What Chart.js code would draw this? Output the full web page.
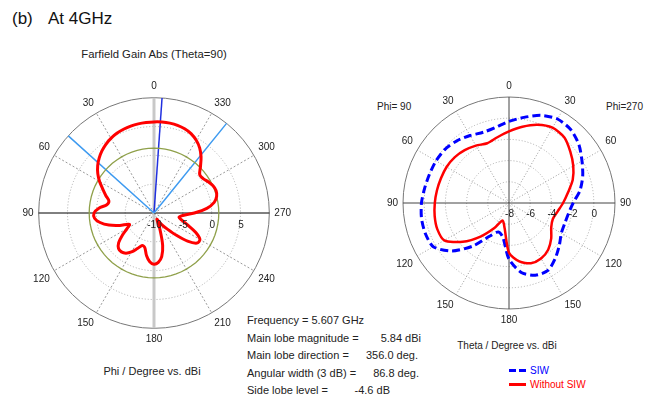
<!DOCTYPE html>
<html>
<head>
<meta charset="utf-8">
<script src="https://cdn.jsdelivr.net/npm/chart.js@4"></script>
<style>
  body { margin: 0; background: #fff; width: 656px; height: 400px; position: relative; overflow: hidden;
         font-family: "Liberation Sans", Arial, sans-serif; color: #222; }
  .t { position: absolute; font-size: 11px; line-height: 13px; white-space: pre; }
  .c { text-align: center; }
  canvas { position: absolute; }
</style>
</head>
<body>
<div class="t" style="left:12px;top:9px;font-size:17px;line-height:20px;color:#111">(b)</div>
<div class="t" style="left:48px;top:9px;font-size:17px;line-height:20px;color:#111">At 4GHz</div>
<div class="t c" style="left:54px;width:200px;top:48px;font-size:11.3px">Farfield Gain Abs (Theta=90)</div>
<div class="t c" style="left:52px;width:200px;top:365px">Phi / Degree vs. dBi</div>

<div class="t" style="left:247px;top:314px">Frequency = 5.607 GHz</div>
<div class="t" style="left:247px;top:332px">Main lobe magnitude =</div>
<div class="t" style="right:235px;top:332px">5.84 dBi</div>
<div class="t" style="left:247px;top:349px">Main lobe direction =</div>
<div class="t" style="right:238px;top:349px">356.0 deg.</div>
<div class="t" style="left:247px;top:367px">Angular width (3 dB) =</div>
<div class="t" style="right:237px;top:367px">86.8 deg.</div>
<div class="t" style="left:247px;top:384px">Side lobe level =</div>
<div class="t" style="right:266px;top:384px">-4.6 dB</div>

<div class="t" style="left:377px;top:100px;font-size:10px">Phi= 90</div>
<div class="t" style="left:606px;top:100px;font-size:10px">Phi=270</div>
<div class="t c" style="left:407px;width:200px;top:339px;font-size:10px">Theta / Degree vs. dBi</div>
<div style="position:absolute;left:509px;top:369px;width:17px;height:3px;background:repeating-linear-gradient(90deg,#0000ff 0 7px,transparent 7px 10px)"></div>
<div class="t" style="left:530px;top:364px;font-size:10px;color:#0000ff">SIW</div>
<div style="position:absolute;left:509px;top:383px;width:17px;height:2.5px;background:#ff0000"></div>
<div class="t" style="left:530px;top:378px;font-size:10px;color:#ff0000">Without SIW</div>

<canvas id="phiCut" width="274" height="274" style="left:20px;top:76px"></canvas>
<canvas id="thetaCut" width="246" height="246" style="left:386px;top:80px"></canvas>

<script>
// ---- left plot: gain vs phi (theta = 90), phi counter-clockwise from top, 5 deg steps
const phiDeg = [];
for (let p = 0; p < 360; p += 5) phiDeg.push(p);
const gainPhi = [
  5.8, 5.75, 5.7, 5.6, 5.45, 5.25, 4.95, 4.55, 4.05, 3.45, 2.75, 1.9,
  0.9, -0.2, -1.1, -1.9, -1.7, -0.4, 0.4, 0.35, -0.5, -1.9, -3.7, -5.3,
  -4.6, -3.3, -2.0, -1.3, -1.2, -1.5, -2.2, -3.2, -4.0, -3.8, -2.5, -1.5,
  -1.1, -1.4, -2.3, -4.2, -7.0, -8.8, -8.2, -7.4, -6.3, -4.6, -2.4, -0.9,
  -0.8, -2.0, -3.7, -4.9, -5.6, -5.0, -3.0, -0.8, 0.6, 1.25, 1.45, 1.25,
  0.85, 0.4, 0.35, 1.4, 2.7, 3.8, 4.6, 5.2, 5.55, 5.75, 5.83, 5.84
];
const sideLobeLevel = 1.24;      // 5.84 dBi - 4.6 dB
const mainLobeDir = 356;
const beamEdges = [48, 321];
const phiTicks = [-10, -5, 0, 5];

// ---- right plot: gain vs theta, two phi cuts, 10 deg steps
const thetaDeg = [0, 10, 20, 30, 40, 50, 60, 70, 80, 90, 100, 110, 120, 130, 140, 150, 160, 170, 180];
const siwPhi270 = [-0.3, 0.2, 0.8, 1.15, 1.05, 0.6, -0.05, -0.6, -1.2, -1.95, -2.3, -2.4, -2.3, -1.8, -1.2, -0.65, -0.75, -1.35, -2.7];
const siwPhi90 = [-0.3, -0.75, -0.9, -0.65, -0.35, -0.12, -0.05, -0.02, 0.08, 0.26, 0.38, 0.4, 0.25, -0.95, -2.7, -4.4, -5.1, -4.7, -2.7];
const noSiwPhi270 = [-1.25, -0.7, -0.15, 0.2, 0.1, -0.45, -1.0, -1.6, -2.35, -2.9, -3.35, -3.6, -3.4, -2.8, -2.25, -1.95, -1.95, -2.4, -3.3];
const noSiwPhi90 = [-1.25, -1.7, -2.0, -1.75, -1.5, -1.3, -1.2, -1.17, -1.1, -1.0, -0.88, -0.8, -0.95, -2.3, -3.9, -5.3, -6.25, -5.6, -3.3];
const thetaTicks = [-8, -6, -4, -2, 0];

const FONT = '"Liberation Sans", Arial, sans-serif';
Chart.defaults.font.family = FONT;

// rays + tick labels drawn through the radial scale
function polarExtras(cfg) {
  return {
    id: 'polarExtras',
    beforeDatasetsDraw(chart) {
      const r = chart.scales.r, ctx = chart.ctx;
      (cfg.rays || []).forEach(ray => {
        const p = r.getPointPosition(ray.index, r.drawingArea);
        ctx.save();
        ctx.strokeStyle = ray.color;
        ctx.lineWidth = ray.width;
        ctx.beginPath();
        ctx.moveTo(r.xCenter, r.yCenter);
        ctx.lineTo(p.x, p.y);
        ctx.stroke();
        ctx.restore();
      });
    },
    afterDatasetsDraw(chart) {
      const r = chart.scales.r, ctx = chart.ctx;
      ctx.save();
      ctx.font = '10px ' + FONT;
      ctx.fillStyle = '#222';
      ctx.textAlign = 'center';
      ctx.textBaseline = 'middle';
      cfg.ticks.forEach(v => {
        const p = r.getPointPositionForValue(cfg.tickIndex, v);
        ctx.fillText(String(v), p.x + cfg.dx, p.y + cfg.dy);
      });
      ctx.restore();
    }
  };
}

// left chart data, clockwise index order for the radar
const leftLabels = [], leftGain = [], leftSll = [];
for (let i = 0; i < phiDeg.length; i++) {
  const phi = (360 - i * 5) % 360;
  leftLabels.push(phi);
  leftGain.push(gainPhi[phi / 5]);
  leftSll.push(sideLobeLevel);
}
const phiIndex = phi => ((360 - phi) % 360) / 5;

new Chart(document.getElementById('phiCut'), {
  type: 'radar',
  data: {
    labels: leftLabels,
    datasets: [
      { label: 'Gain', data: leftGain, borderColor: '#ff0000', borderWidth: 3, fill: false, tension: 0.3 },
      { label: 'SLL', data: leftSll, borderColor: '#8fa04a', borderWidth: 1.3, fill: false }
    ]
  },
  options: {
    responsive: false,
    animation: false,
    events: [],
    elements: { point: { radius: 0 } },
    plugins: { legend: { display: false }, tooltip: { enabled: false } },
    scales: {
      r: {
        min: -10, max: 10,
        ticks: { stepSize: 5, display: false },
        grid: { circular: true, color: c => c.tick.value === 10 ? '#777' : '#aaa', lineWidth: 1 },
        border: { dash: c => c.tick.value === 10 ? [] : [1, 2] },
        angleLines: {
          color: c => { const p = leftLabels[c.index]; return p % 180 === 0 ? '#c8c8c8' : p % 90 === 0 ? '#000' : '#999'; },
          lineWidth: c => { const p = leftLabels[c.index]; return p % 30 ? 0 : p % 180 === 0 ? 3 : 1; },
          borderDash: c => leftLabels[c.index] % 90 === 0 ? [] : [2, 2]
        },
        pointLabels: {
          padding: 5,
          color: '#222',
          font: { size: 10 },
          callback: v => v % 30 === 0 ? String(v) : ''
        }
      }
    }
  },
  plugins: [polarExtras({
    rays: [
      { index: phiIndex(mainLobeDir), color: '#2030e0', width: 1.5 },
      { index: phiIndex(beamEdges[0]), color: '#3d9af0', width: 1.5 },
      { index: phiIndex(beamEdges[1]), color: '#3d9af0', width: 1.5 }
    ],
    ticks: phiTicks, tickIndex: phiIndex(270), dx: 0.5, dy: 12
  })]
});

// right chart: clockwise from top = phi 270 side, then phi 90 side
const rightLabels = [], rightSiw = [], rightNoSiw = [];
for (let i = 0; i < 36; i++) {
  const a = i * 10;
  const theta = a <= 180 ? a : 360 - a;
  rightLabels.push(theta);
  rightSiw.push(a <= 180 ? siwPhi270[theta / 10] : siwPhi90[theta / 10]);
  rightNoSiw.push(a <= 180 ? noSiwPhi270[theta / 10] : noSiwPhi90[theta / 10]);
}

new Chart(document.getElementById('thetaCut'), {
  type: 'radar',
  data: {
    labels: rightLabels,
    datasets: [
      { label: 'Without SIW', data: rightNoSiw, borderColor: '#ff0000', borderWidth: 2.5, fill: false, tension: 0.25 },
      { label: 'SIW', data: rightSiw, borderColor: '#0000ff', borderWidth: 3, borderDash: [8, 4], fill: false, tension: 0.25 }
    ]
  },
  options: {
    responsive: false,
    animation: false,
    events: [],
    elements: { point: { radius: 0 } },
    plugins: { legend: { display: false }, tooltip: { enabled: false } },
    scales: {
      r: {
        min: -8, max: 2,
        ticks: { stepSize: 2, display: false },
        grid: { circular: true, color: c => c.tick.value === 2 ? '#777' : '#aaa', lineWidth: 1 },
        border: { dash: c => c.tick.value === 2 ? [] : [1, 2] },
        angleLines: {
          color: c => (c.index * 10) % 90 === 0 ? '#444' : '#999',
          lineWidth: c => (c.index * 10) % 30 ? 0 : 1,
          borderDash: c => (c.index * 10) % 90 === 0 ? [] : [1, 2]
        },
        pointLabels: {
          padding: 5,
          color: '#222',
          font: { size: 10 },
          callback: v => v % 30 === 0 ? String(v) : ''
        }
      }
    }
  },
  plugins: [polarExtras({ ticks: thetaTicks, tickIndex: 9, dx: 0.5, dy: 11 })]
});
</script>
</body>
</html>
